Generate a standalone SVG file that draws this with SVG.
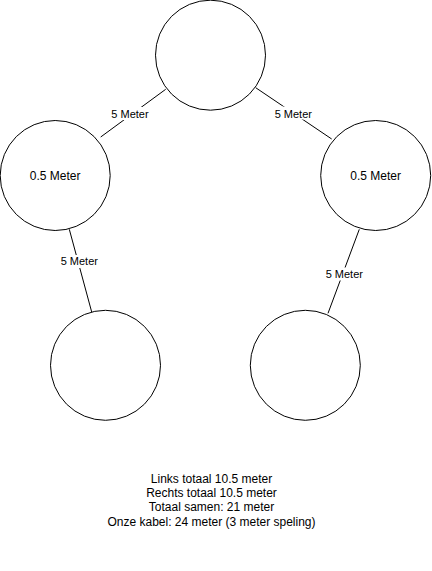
<svg xmlns="http://www.w3.org/2000/svg" width="432" height="571" viewBox="0 0 432 571">
<style>
.node{fill:#fff;stroke:#000;stroke-width:1}
.edge{stroke:#000;stroke-width:1;fill:none}
.lbl{font-family:"Liberation Sans",Arial,sans-serif;font-size:11px;text-anchor:middle;fill:#000}
.bg{fill:#fff}
.t{font-family:"Liberation Sans",Arial,sans-serif;font-size:12px;text-anchor:middle;fill:#000}
</style>
<rect width="432" height="571" fill="#fff"/>
<g id="connectors">
<line class="edge" x1="165.7" y1="89.3" x2="100.7" y2="137"/>
<rect class="bg" x="110.5" y="107" width="39" height="13"/>
<text class="lbl" x="130" y="118">5 Meter</text>
<line class="edge" x1="255.7" y1="87.7" x2="331.7" y2="139"/>
<rect class="bg" x="274" y="106.5" width="39" height="13"/>
<text class="lbl" x="293.3" y="117.5">5 Meter</text>
<line class="edge" x1="69.3" y1="229.3" x2="91.7" y2="312"/>
<rect class="bg" x="60" y="255" width="39" height="13"/>
<text class="lbl" x="79.3" y="265.3">5 Meter</text>
<line class="edge" x1="359.3" y1="229.3" x2="328" y2="313.3"/>
<rect class="bg" x="325" y="267.5" width="39" height="13"/>
<text class="lbl" x="344.3" y="278">5 Meter</text>
</g>
<g id="top"><circle class="node" cx="210.5" cy="55.2" r="55"/></g>
<g id="left"><circle class="node" cx="55.2" cy="175.5" r="55"/><text class="t" x="55.2" y="179.7">0.5 Meter</text></g>
<g id="right"><circle class="node" cx="375.7" cy="175.5" r="55"/><text class="t" x="375.7" y="179.7">0.5 Meter</text></g>
<g id="bottom-left"><circle class="node" cx="105.5" cy="365.3" r="55"/></g>
<g id="bottom-right"><circle class="node" cx="305.3" cy="365.3" r="55"/></g>
<g id="summary">
<text class="t" x="211.5" y="482.5">Links totaal 10.5 meter</text>
<text class="t" x="211.5" y="497">Rechts totaal 10.5 meter</text>
<text class="t" x="211.5" y="511.4">Totaal samen: 21 meter</text>
<text class="t" x="211.5" y="526">Onze kabel: 24 meter (3 meter speling)</text>
</g>
</svg>
